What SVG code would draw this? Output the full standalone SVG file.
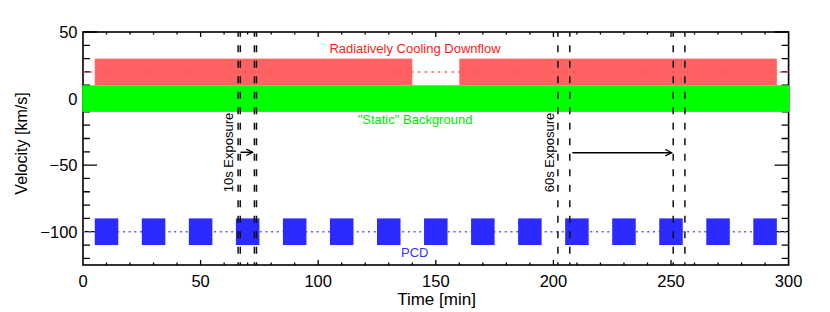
<svg xmlns="http://www.w3.org/2000/svg" width="830" height="312" viewBox="0 0 830 312">
<defs>
<style>
.t{font-family:"Liberation Sans",Arial,sans-serif;}
.tick{font-size:16.5px;fill:#000;}
.ax{fill:none;stroke:#000;stroke-width:1.6;}
.tk{fill:none;stroke:#000;stroke-width:1.3;}
.dash{fill:none;stroke:#111;stroke-width:1.5;stroke-dasharray:7 8.5;stroke-dashoffset:2.2;}
.arr{fill:none;stroke:#000;stroke-width:1.5;}
.sq{fill:#2b2bff;}
</style>
<marker id="ah" viewBox="0 0 10 10" refX="9" refY="5" markerWidth="8" markerHeight="8" markerUnits="userSpaceOnUse" orient="auto">
<path d="M1,1 L9,5 L1,9" fill="none" stroke="#000" stroke-width="1.6"/>
</marker>
</defs>
<rect width="830" height="312" fill="#fff"/>
<g id="axes">
<rect class="ax" x="83" y="32" width="705.6" height="233"/>
<path class="tk" d="M83,32h14M83,98.57h14M83,165.14h14M83,231.71h14
M83,45.31h7M83,58.63h7M83,71.94h7M83,85.26h7M83,111.88h7M83,125.2h7M83,138.51h7M83,151.83h7M83,178.45h7M83,191.77h7M83,205.08h7M83,218.4h7M83,245.03h7M83,258.34h7
M788.6,32h-14M788.6,98.57h-14M788.6,165.14h-14M788.6,231.71h-14
M788.6,45.31h-7M788.6,58.63h-7M788.6,71.94h-7M788.6,85.26h-7M788.6,111.88h-7M788.6,125.2h-7M788.6,138.51h-7M788.6,151.83h-7M788.6,178.45h-7M788.6,191.77h-7M788.6,205.08h-7M788.6,218.4h-7M788.6,245.03h-7M788.6,258.34h-7"/>
<path class="tk" d="M200.6,265v-5M318.2,265v-5M435.8,265v-5M553.4,265v-5M671,265v-5
M106.52,265v-2.5M130.04,265v-2.5M153.56,265v-2.5M177.08,265v-2.5M224.12,265v-2.5M247.64,265v-2.5M271.16,265v-2.5M294.68,265v-2.5M341.72,265v-2.5M365.24,265v-2.5M388.76,265v-2.5M412.28,265v-2.5M459.32,265v-2.5M482.84,265v-2.5M506.36,265v-2.5M529.88,265v-2.5M576.92,265v-2.5M600.44,265v-2.5M623.96,265v-2.5M647.48,265v-2.5M694.52,265v-2.5M718.04,265v-2.5M741.56,265v-2.5M765.08,265v-2.5
M200.6,32v5M318.2,32v5M435.8,32v5M553.4,32v5M671,32v5
M106.52,32v2.5M130.04,32v2.5M153.56,32v2.5M177.08,32v2.5M224.12,32v2.5M247.64,32v2.5M271.16,32v2.5M294.68,32v2.5M341.72,32v2.5M365.24,32v2.5M388.76,32v2.5M412.28,32v2.5M459.32,32v2.5M482.84,32v2.5M506.36,32v2.5M529.88,32v2.5M576.92,32v2.5M600.44,32v2.5M623.96,32v2.5M647.48,32v2.5M694.52,32v2.5M718.04,32v2.5M741.56,32v2.5M765.08,32v2.5"/>
<g class="t tick" text-anchor="end">
<text x="77.5" y="38">50</text>
<text x="77.5" y="104.6">0</text>
<text x="77.5" y="171.1">−50</text>
<text x="77.5" y="237.7">−100</text>
</g>
<g class="t tick" text-anchor="middle">
<text x="83" y="287">0</text>
<text x="200.6" y="287">50</text>
<text x="318.2" y="287">100</text>
<text x="435.8" y="287">150</text>
<text x="553.4" y="287">200</text>
<text x="671" y="287">250</text>
<text x="788.6" y="287">300</text>
</g>
<text class="t" x="436.5" y="305" font-size="17" text-anchor="middle">Time [min]</text>
<text class="t" transform="translate(26.5,143.5) rotate(-90)" font-size="16" text-anchor="middle">Velocity [km/s]</text>
</g>
<g id="downflow">
<rect x="94.76" y="58.63" width="317.52" height="26.63" fill="#ff6262"/>
<rect x="459.32" y="58.63" width="317.52" height="26.63" fill="#ff6262"/>
<path d="M83,71.94H788.6" fill="none" stroke="#ff5050" stroke-width="1.6" stroke-dasharray="2.2 4.5"/>
<text class="t" x="415" y="53.3" font-size="13" fill="#ff1a1a" text-anchor="middle">Radiatively Cooling Downflow</text>
</g>
<g id="background">
<rect x="82.2" y="85.26" width="707.2" height="26.62" fill="#00ff00"/>
<text class="t" x="415" y="124" font-size="13" fill="#00e600" text-anchor="middle">"Static" Background</text>
</g>
<g id="pcd">
<path d="M83,231.71H788.6" fill="none" stroke="#5a5aff" stroke-width="1.6" stroke-dasharray="2 3.7"/>
<rect class="sq" x="94.76" y="218.4" width="23.52" height="26.63"/>
<rect class="sq" x="141.8" y="218.4" width="23.52" height="26.63"/>
<rect class="sq" x="188.84" y="218.4" width="23.52" height="26.63"/>
<rect class="sq" x="235.88" y="218.4" width="23.52" height="26.63"/>
<rect class="sq" x="282.92" y="218.4" width="23.52" height="26.63"/>
<rect class="sq" x="329.96" y="218.4" width="23.52" height="26.63"/>
<rect class="sq" x="377" y="218.4" width="23.52" height="26.63"/>
<rect class="sq" x="424.04" y="218.4" width="23.52" height="26.63"/>
<rect class="sq" x="471.08" y="218.4" width="23.52" height="26.63"/>
<rect class="sq" x="518.12" y="218.4" width="23.52" height="26.63"/>
<rect class="sq" x="565.16" y="218.4" width="23.52" height="26.63"/>
<rect class="sq" x="612.2" y="218.4" width="23.52" height="26.63"/>
<rect class="sq" x="659.24" y="218.4" width="23.52" height="26.63"/>
<rect class="sq" x="706.28" y="218.4" width="23.52" height="26.63"/>
<rect class="sq" x="753.32" y="218.4" width="23.52" height="26.63"/>
<text class="t" x="414.7" y="256.7" font-size="13" fill="#3535ff" text-anchor="middle">PCD</text>
</g>
<g id="connectors">
<path class="dash" d="M238.1,32V265M240.3,32V265M254.4,32V265M256.5,32V265"/>
<path class="dash" d="M557.9,32V265M569.8,32V265M673.2,32V265M684.9,32V265"/>
<path class="arr" d="M240.5,152.3H252.7" marker-end="url(#ah)"/>
<path class="arr" d="M572.3,152.7H671.7" marker-end="url(#ah)"/>
</g>
<g id="exposure-labels">
<text class="t" transform="translate(233.3,152.5) rotate(-90)" font-size="13" text-anchor="middle">10s Exposure</text>
<text class="t" transform="translate(553.5,152.5) rotate(-90)" font-size="13" text-anchor="middle">60s Exposure</text>
</g>
</svg>
